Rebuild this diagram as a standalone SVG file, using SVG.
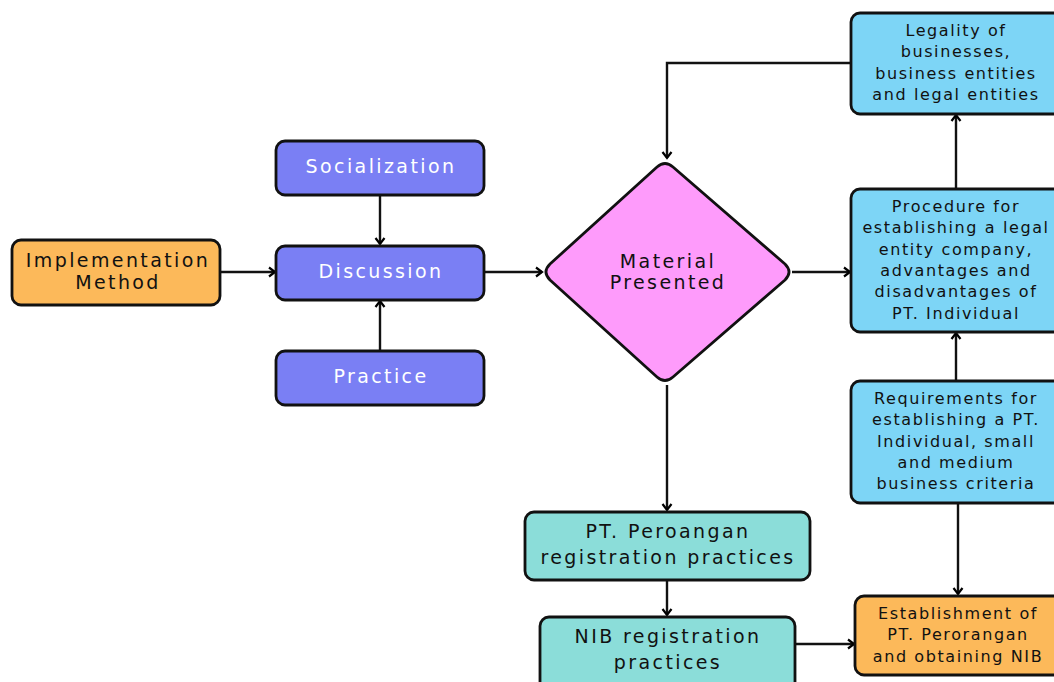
<svg xmlns="http://www.w3.org/2000/svg" width="1054" height="682" viewBox="0 0 1054 682">
<defs>
<marker id="arr" markerWidth="12" markerHeight="12" refX="9" refY="6" orient="auto" markerUnits="userSpaceOnUse">
<path d="M3,1.5 L9,6 L3,10.5" fill="none" stroke="#000" stroke-width="2.2" stroke-linejoin="miter"/>
</marker>
<style>
.box{stroke:#111;stroke-width:2.8}
.or{fill:#FCB95A}.pu{fill:#7A7FF4}.pk{fill:#FE9BFB}.bl{fill:#7DD5F6}.te{fill:#8BDDD9}
.t{font-family:"DejaVu Sans",sans-serif;font-size:19px;letter-spacing:2.4px;text-anchor:middle;fill:#111}
.w{fill:#fff}
.s{font-family:"DejaVu Sans",sans-serif;font-size:16px;letter-spacing:1.6px;text-anchor:middle;fill:#111}
.c{fill:none;stroke:#111;stroke-width:2.4;marker-end:url(#arr)}
</style>
</defs>
<rect width="1054" height="682" fill="#fff"/>
<g id="connectors">
<path class="c" d="M220,272 L275,272"/>
<path class="c" d="M380,195 L380,244"/>
<path class="c" d="M380,350 L380,301"/>
<path class="c" d="M484,272 L542,272"/>
<path class="c" d="M851,63 L667,63 L667,158"/>
<path class="c" d="M792,272 L850,272"/>
<path class="c" d="M956,189 L956,115"/>
<path class="c" d="M956,381 L956,333"/>
<path class="c" d="M958,503 L958,594"/>
<path class="c" d="M667,385 L667,510"/>
<path class="c" d="M667,580 L667,615"/>
<path class="c" d="M795,644 L854,644"/>
</g>
<g id="implementation">
<rect class="box or" x="12" y="240" width="208" height="65" rx="9"/>
<text class="t" x="118" y="267">Implementation</text>
<text class="t" x="118" y="289">Method</text>
</g>
<g id="socialization">
<rect class="box pu" x="276" y="141" width="208" height="54" rx="9"/>
<text class="t w" x="381" y="173">Socialization</text>
</g>
<g id="discussion">
<rect class="box pu" x="276" y="246" width="208" height="54" rx="9"/>
<text class="t w" x="381" y="278">Discussion</text>
</g>
<g id="practice">
<rect class="box pu" x="276" y="351" width="208" height="54" rx="9"/>
<text class="t w" x="381" y="383">Practice</text>
</g>
<g id="material">
<path class="box pk" d="M657,167 Q665,160 673,167 L785,264 Q793,272 785,280 L673,377 Q665,384 657,377 L550,280 Q542,272 550,264 Z" stroke-linejoin="round"/>
<text class="t" x="668" y="268">Material</text>
<text class="t" x="668" y="289">Presented</text>
</g>
<g id="legality">
<rect class="box bl" x="851" y="13" width="212" height="101" rx="9"/>
<text class="s" x="956" y="36">Legality of</text>
<text class="s" x="956" y="57">businesses,</text>
<text class="s" x="956" y="79">business entities</text>
<text class="s" x="956" y="100">and legal entities</text>
</g>
<g id="procedure">
<rect class="box bl" x="851" y="189" width="212" height="143" rx="9"/>
<text class="s" x="956" y="212">Procedure for</text>
<text class="s" x="956" y="233">establishing a legal</text>
<text class="s" x="956" y="255">entity company,</text>
<text class="s" x="956" y="276">advantages and</text>
<text class="s" x="956" y="297">disadvantages of</text>
<text class="s" x="956" y="319">PT. Individual</text>
</g>
<g id="requirements">
<rect class="box bl" x="851" y="381" width="212" height="122" rx="9"/>
<text class="s" x="956" y="404">Requirements for</text>
<text class="s" x="956" y="425">establishing a PT.</text>
<text class="s" x="956" y="447">Individual, small</text>
<text class="s" x="956" y="468">and medium</text>
<text class="s" x="956" y="489">business criteria</text>
</g>
<g id="peroangan">
<rect class="box te" x="525" y="512" width="285" height="68" rx="9"/>
<text class="t" x="668" y="538">PT. Peroangan</text>
<text class="t" x="668" y="564">registration practices</text>
</g>
<g id="nib">
<rect class="box te" x="540" y="617" width="255" height="75" rx="9"/>
<text class="t" x="668" y="643">NIB registration</text>
<text class="t" x="668" y="669">practices</text>
</g>
<g id="establishment">
<rect class="box or" x="855" y="596" width="208" height="79" rx="9"/>
<text class="s" x="958" y="619">Establishment of</text>
<text class="s" x="958" y="640">PT. Perorangan</text>
<text class="s" x="958" y="662">and obtaining NIB</text>
</g>
</svg>
